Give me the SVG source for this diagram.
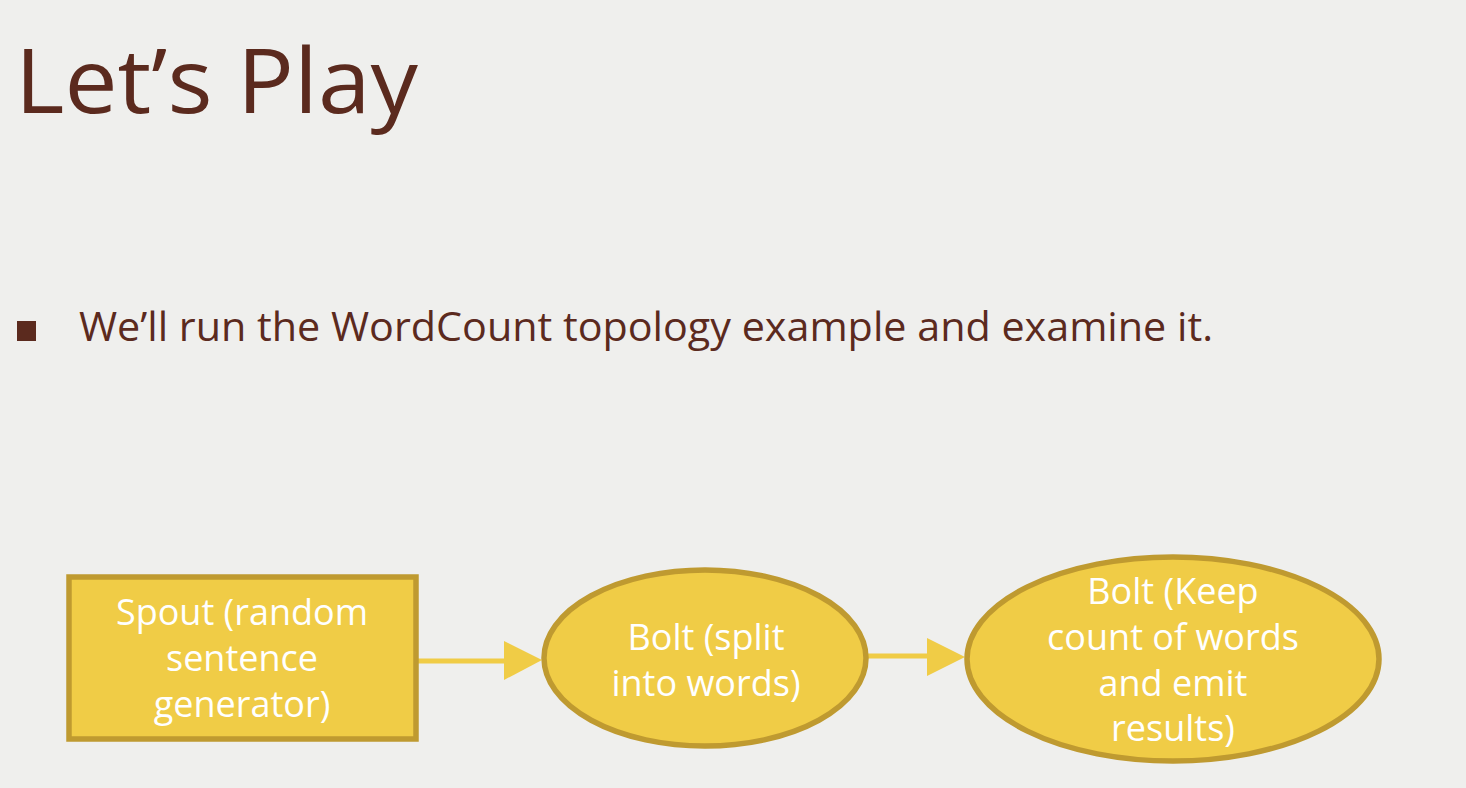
<svg xmlns="http://www.w3.org/2000/svg" width="1466" height="788" viewBox="0 0 1466 788">
<style>
.title{font-family:"Open Sans","Noto Sans","Liberation Sans",sans-serif;fill:#5B2A1E;}
.body{font-family:"Open Sans","Noto Sans","Liberation Sans",sans-serif;fill:#5B2A1E;}
.node{fill:#F0CC46;stroke:#BF9A30;stroke-width:5.5;}
.lbl{font-family:"Open Sans","Noto Sans","Liberation Sans",sans-serif;fill:#FFFFFF;font-size:36px;text-anchor:middle;}
.conn{stroke:#F0CC46;stroke-width:5;fill:none;}
.head{fill:#F0CC46;}
</style>
<rect width="1466" height="788" fill="#EFEFED"/>
<text class="title" x="15" y="113" font-size="90" textLength="403" lengthAdjust="spacingAndGlyphs">Let’s Play</text>
<rect x="17" y="321" width="19" height="20" fill="#5B2A1E"/>
<text class="body" x="79" y="341" font-size="40" textLength="1134" lengthAdjust="spacingAndGlyphs">We’ll run the WordCount topology example and examine it.</text>
<g id="connectors">
<line class="conn" x1="417" y1="661" x2="507" y2="661"/>
<polygon class="head" points="504,641 542,660 504,680"/>
<line class="conn" x1="866" y1="656" x2="930" y2="656"/>
<polygon class="head" points="927,638 965,657 927,676"/>
</g>
<g id="spout">
<rect class="node" x="69" y="577" width="347" height="162"/>
<text class="lbl" x="242" y="625">Spout (random</text>
<text class="lbl" x="242" y="671">sentence</text>
<text class="lbl" x="242" y="717">generator)</text>
</g>
<g id="bolt-split">
<ellipse class="node" cx="705" cy="658" rx="161" ry="88"/>
<text class="lbl" x="706" y="650">Bolt (split</text>
<text class="lbl" x="706" y="696">into words)</text>
</g>
<g id="bolt-count">
<ellipse class="node" cx="1173" cy="659" rx="206" ry="102"/>
<text class="lbl" x="1173" y="604">Bolt (Keep</text>
<text class="lbl" x="1173" y="650">count of words</text>
<text class="lbl" x="1173" y="696">and emit</text>
<text class="lbl" x="1173" y="741">results)</text>
</g>
</svg>
